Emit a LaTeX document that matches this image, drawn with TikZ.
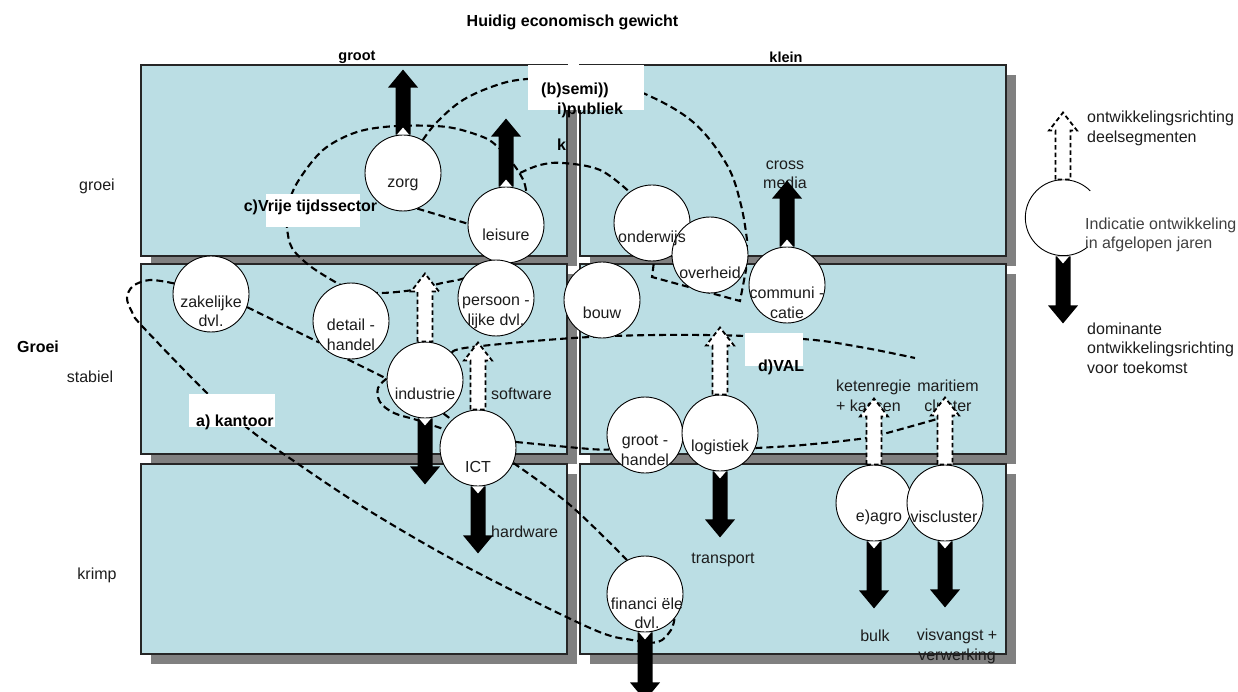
\documentclass[tikz,border=0pt]{standalone}
\usepackage{fontspec}
\setmainfont{Liberation Sans}
\pgfdeclarelayer{bg}
\pgfdeclarelayer{curves}
\pgfsetlayers{bg,curves,main}
\definecolor{panelblue}{RGB}{187,222,228}
\definecolor{shadowgray}{RGB}{128,128,128}
\definecolor{txt}{RGB}{28,28,28}
\tikzset{
  panel/.style={fill=panelblue, draw=black!85, line width=1.2pt},
  shadowbox/.style={fill=shadowgray, draw=none},
  bubble/.style={circle, draw=black, fill=white, line width=0.9pt, minimum size=76pt, inner sep=0pt},
  ctext/.style={text=txt, align=center, font=\fontsize{16}{19.5}\selectfont, inner sep=0pt},
  plain/.style={text=txt, font=\fontsize{16}{20}\selectfont, inner sep=0pt},
  boldlbl/.style={text=black, font=\bfseries\fontsize{16}{20}\selectfont, inner sep=0pt},
  headlbl/.style={text=black, font=\bfseries\fontsize{14.5}{18}\selectfont, inner sep=0pt},
  whitebox/.style={fill=white, draw=none},
  region/.style={draw=black, line width=2.1pt, dash pattern=on 7pt off 4pt},
  openarrow/.style={fill=white, draw=black, line width=1.8pt, dash pattern=on 4.5pt off 3pt},
}
\newcommand{\SolidUp}[2]{%
  \fill[black] (#1) ++(-7.5,0) -- ++(0,{18-#2}) -- ++(-7.5,0) -- ++(15,-18) -- ++(15,18) -- ++(-7.5,0) -- ++(0,{#2-18}) -- cycle;
  \fill[white] (#1) ++(-6,0) -- ++(6,-7) -- ++(6,7) -- cycle;}
\newcommand{\SolidDown}[2]{%
  \fill[black] (#1) ++(-7.5,0) -- ++(0,{#2-18}) -- ++(-7.5,0) -- ++(15,18) -- ++(15,-18) -- ++(-7.5,0) -- ++(0,{18-#2}) -- cycle;
  \fill[white] (#1) ++(-6,0) -- ++(6,7) -- ++(6,-7) -- cycle;}
\newcommand{\OpenUp}[2]{%
  \filldraw[openarrow] (#1) ++(-7.5,0) -- ++(0,{18-#2}) -- ++(-6.5,0) -- ++(14,-18) -- ++(14,18) -- ++(-6.5,0) -- ++(0,{#2-18}) -- cycle;}

\begin{document}
\begin{tikzpicture}[x=1pt,y=-1pt]
\useasboundingbox (0,0) rectangle (1238,692);

% ---------- panels ----------
\begin{pgfonlayer}{bg}
  \foreach \xa/\xb in {141/567,580/1006}{
    \foreach \ya/\yb in {65/256,264/454,464/654}{
      \fill[shadowbox] (\xa+10,\ya+10) rectangle (\xb+10,\yb+10);
    }}
  \foreach \xa/\xb in {141/567,580/1006}{
    \foreach \ya/\yb in {65/256,264/454,464/654}{
      \filldraw[panel] (\xa,\ya) rectangle (\xb,\yb);
    }}
\end{pgfonlayer}

% ---------- circles ----------
\node[bubble] (zorg) at (403,173) {};
\node[bubble] (leisure) at (506,225) {};
\node[bubble] (onderwijs) at (652,223) {};
\node[bubble] (overheid) at (710,255) {};
\node[bubble] (communicatie) at (787,285) {};
\node[bubble] (bouw) at (602,300) {};
\node[bubble] (zakelijke) at (211,294) {};
\node[bubble] (detailhandel) at (351,321) {};
\node[bubble] (persoon) at (496,298) {};
\node[bubble] (industrie) at (425,380) {};
\node[bubble] (ICT) at (478,448) {};
\node[bubble] (groothandel) at (645,435) {};
\node[bubble] (logistiek) at (720,433) {};
\node[bubble] (agro) at (874,503) {};
\node[bubble] (viscluster) at (945,503) {};
\node[bubble] (financiele) at (645,594) {};
\node[bubble, draw=none, fill=none] (legcirc) at (1063,218) {};
\draw[line width=0.9pt] (legcirc.45) arc[start angle=45, end angle=310, radius=38pt];

% ---------- dashed regions ----------
\begin{pgfonlayer}{curves}
  % a) kantoor
  \draw[region] plot[smooth, tension=0.55] coordinates {(zakelijke.164) (150,280) (133,286) (127,298) (132,312) (142,326) (207,393) (250,430) (288,457) (363,507) (463,565) (590,628) (632,640) (658,642) (671,630) (financiele.-40)};
  \draw[region] (zakelijke.-20) -- (detailhandel.214);
  \draw[region] (detailhandel.-95) -- (industrie.178);
  \draw[region] (industrie.-61) -- (ICT.133);
  \draw[region] plot[smooth, tension=0.6] coordinates {(ICT.-23) (570,505) (financiele.118)};
  % d) VAL
  \draw[region] plot[smooth, tension=0.6] coordinates {(industrie.178) (378,388) (380,402) (394,413) (417,420) (ICT.151)};
  \draw[region] plot[smooth, tension=0.6] coordinates {(industrie.45) (472,347) (590,337) (703,335) (803,339) (860,347) (915,358)};
  \draw[region] plot[smooth, tension=0.6] coordinates {(ICT.9) (590,449) (groothandel.202)};
  \draw[region] plot[smooth, tension=0.6] coordinates {(logistiek.-23) (803,445) (867,438) (887,433) (937,419) (952,414)};
  % (b) semi-publiek
  \draw[region] plot[smooth, tension=0.6] coordinates {(zorg.59) (437,122) (463,100) (497,85) (527,79) (590,76) (643,93) (693,122) (727,165) (741,205) (747,240)} -- (746,270) -- (740,301) -- (652,277) -- (onderwijs.-87);
  \draw[region] plot[smooth, tension=0.6] coordinates {(520,173) (540,165) (563,163) (600,170) (onderwijs.126)};
  \draw[region] (zorg.-68) -- (leisure.178);
  % c) vrije tijdssector
  \draw[region] plot[smooth cycle, tension=0.55] coordinates {(530,235) (526,190) (520,174) (510,160) (498,147) (483,137) (447,127) (397,126) (357,132) (323,150) (297,183) (287,210) (287,228) (292,248) (310,266) (337,283) (351,289) (378,293) (413,290) (442,283) (465,278) (490,265) (515,252)};

  % label boxes
  \fill[whitebox] (528,65) rectangle (644,110);
  \fill[whitebox] (266,194) rectangle (360,227);
  \fill[whitebox] (189,394) rectangle (275,427);
  \fill[whitebox] (745,333) rectangle (803,366);
\end{pgfonlayer}

% ---------- region labels ----------
\node[boldlbl, anchor=west] (semiA) at (541,90) {(b)semi))};
\node[boldlbl, anchor=west] (semiB) at (557,110) {i)publiek};
\node[boldlbl, anchor=west] (semiC) at (557,145) {k};
\node[boldlbl] (vrije) at (310.5,207) {c)Vrije tijdssector};
\node[boldlbl, anchor=west] (kantoor) at (196,422) {a) kantoor};
\node[boldlbl, anchor=west] (val) at (758,367) {d)VAL};

% ---------- headings ----------
\node[boldlbl] (title) at (572.5,22) {Huidig economisch gewicht};
\node[headlbl] (groot) at (357,57) {groot};
\node[headlbl] (klein) at (786,57) {klein};
\node[plain] (groei) at (97,186) {groei};
\node[boldlbl] (Groei) at (38,347) {Groei};
\node[plain] (stabiel) at (90,377) {stabiel};
\node[plain] (krimp) at (97,575) {krimp};

% ---------- circle texts ----------
\node[ctext] (zorgT) at (403,185) {zorg};
\node[ctext] (leisureT) at (506,235) {leisure};
\node[ctext] (onderwijsT) at (652,238) {onderwijs};
\node[ctext] (overheidT) at (710,273) {overheid};
\node[ctext] (communicatieT) at (787,303) {communi -\\catie};
\node[ctext] (bouwT) at (602,313) {bouw};
\node[ctext] (zakelijkeT) at (211,311.5) {zakelijke\\dvl.};
\node[ctext] (detailhandelT) at (351,335) {detail -\\handel};
\node[ctext] (persoonT) at (496,313) {persoon -\\lijke dvl.};
\node[ctext] (industrieT) at (425,394) {industrie};
\node[ctext] (ICTT) at (478,467) {ICT};
\node[ctext] (groothandelT) at (645,450.5) {groot -\\handel};
\node[ctext] (logistiekT) at (720,447) {logistiek};
\node[ctext] (agroT) at (879,517) {e)agro};
\node[ctext] (visclusterT) at (944,517) {viscluster};
\node[ctext] (financieleT) at (647,613.5) {financi ële\\dvl.};

% ---------- other texts ----------
\node[ctext] (crossmedia) at (785,175) {cross\\media};
\node[plain, anchor=west] (software) at (491,394) {software};
\node[plain, anchor=west] (hardware) at (491,532) {hardware};
\node[plain] (transport) at (723,560) {transport};
\node[ctext, align=left, anchor=west] (keten) at (836,396) {ketenregie\\+ kassen};
\node[ctext] (maritiem) at (948,396) {maritiem\\cluster};
\node[plain] (bulk) at (875,636) {bulk};
\node[ctext] (visvangst) at (957,646.5) {visvangst +\\verwerking};
\node[ctext, align=left, anchor=west] (leg1) at (1087,128.5) {ontwikkelingsrichting\\deelsegmenten};
\node[ctext, align=left, anchor=west, text=black!75] (leg2) at (1085,235) {Indicatie ontwikkeling\\in afgelopen jaren};
\node[ctext, align=left, anchor=west] (leg3) at (1087,348) {dominante\\ontwikkelingsrichting\\voor toekomst};

% ---------- arrows ----------
\SolidUp{zorg.north}{65}
\SolidUp{leisure.north}{68}
\SolidUp{communicatie.north}{66}
\SolidDown{industrie.south}{66}
\SolidDown{ICT.south}{67}
\SolidDown{logistiek.south}{66}
\SolidDown{agro.south}{67}
\SolidDown{viscluster.south}{66}
\SolidDown{financiele.south}{68}
\SolidDown{legcirc.south}{67}
\OpenUp{legcirc.north}{67}
\OpenUp{industrie.north}{68}
\OpenUp{ICT.north}{67}
\OpenUp{logistiek.north}{67}
\OpenUp{agro.north}{66}
\OpenUp{viscluster.north}{67}
\end{tikzpicture}
\end{document}
